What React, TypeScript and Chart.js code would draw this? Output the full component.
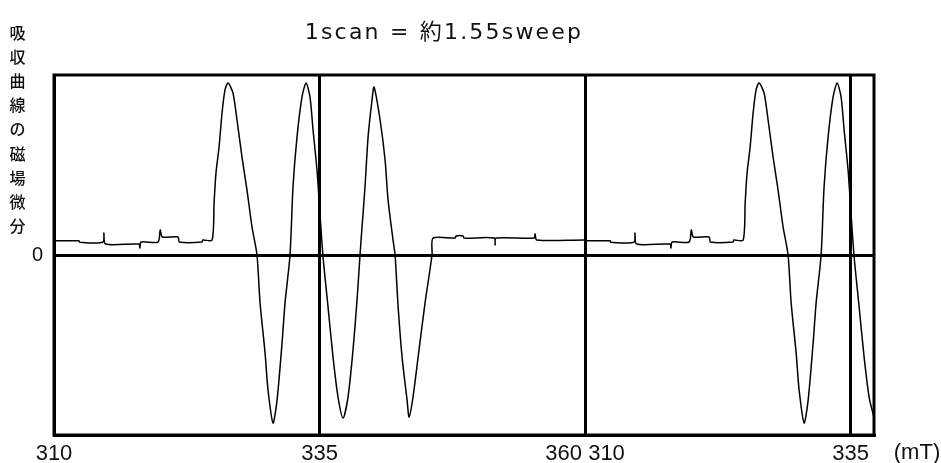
import React, { useEffect, useRef } from "react";
import { Chart, registerables } from "chart.js";

Chart.register(...registerables);

// ---- Text ----
const TITLE = "1scan = 約1.55sweep";
const Y_LABEL = "吸収曲線の磁場微分";
const UNIT_LABEL = "(mT)";

// ---- Scan description ----
const SWEEP_START = 310; // mT
const SWEEP_END = 360; // mT
const SCAN_END_FIELD = 337.2; // second sweep stops here (≈0.55 sweep)

// ---- Axis ticks (position along the scan, mT from scan start) ----
const xTickPositions = [0, 25, 50, 75];
const xTickLabels = ["310", "335", "360 310", "335"];
const yTickValues = [0];
const yTickLabels = ["0"];

// ---- One sweep: field (mT) and derivative signal (a.u., full scale ±100) ----
const sweepField = [
  310.0, 312.35, 312.4, 314.6, 314.7, 314.85, 318.0, 318.08, 318.2, 319.79,
  320.0, 320.2, 321.68, 321.8, 323.94, 324.0, 324.88,
  325.07, 325.25, 325.54, 325.82, 326.1, 326.38,
  326.85, 327.23, 327.7, 328.17, 328.64, 329.11, 329.4, 329.87, 330.15, 330.62,
  331.0, 331.47, 331.75, 332.22, 332.5, 332.88, 333.35, 333.73,
  334.1, 334.39, 334.76, 335.05, 335.33, 335.8, 336.27, 336.74, 337.21,
  337.68, 338.15, 338.53, 338.81, 339.0, 339.28, 339.57, 339.94, 340.13,
  340.7, 341.17, 341.45, 341.92, 342.11, 342.4, 342.77, 343.24, 343.43,
  343.8, 344.28, 344.93, 345.59, 345.69,
  347.76, 347.85, 348.51, 348.61, 351.45, 351.53, 351.62, 355.2, 355.29, 355.45, 360.0,
];
const sweepSignal = [
  7.9, 7.9, 7.1, 7.1, 12.2, 6.1, 6.1, 3.9, 7.2, 7.2,
  13.9, 10.0, 10.0, 7.2, 7.2, 8.3, 8.3,
  28.9, 45.6, 60.0, 78.9, 91.7, 95.6,
  90.0, 75.0, 54.4, 36.1, 15.6, 0.0, -26.7, -54.4, -75.0, -93.3,
  -80.6, -48.9, -26.7, 0.0, 37.8, 65.6, 87.8, 95.6,
  87.8, 69.4, 47.2, 22.0, -1.1, -28.9, -56.7, -78.9, -90.6,
  -78.9, -52.8, -25.0, 0.0, 15.6, 37.8, 65.6, 86.1, 93.3,
  75.0, 52.8, 30.6, 8.3, 0.0, -28.9, -56.7, -80.6, -90.0,
  -78.9, -56.7, -26.7, 0.0, 9.4,
  9.4, 10.6, 10.6, 9.4, 9.4, 5.6, 9.4, 9.4, 11.7, 8.3, 8.3,
];

const SWEEP_SPAN = SWEEP_END - SWEEP_START;
const X_MAX = SWEEP_SPAN + (SCAN_END_FIELD - SWEEP_START);

function buildScan() {
  const pts: { x: number; y: number }[] = [];
  for (let k = 0; k < 2; k++) {
    for (let i = 0; i < sweepField.length; i++) {
      const pos = k * SWEEP_SPAN + (sweepField[i] - SWEEP_START);
      pts.push({ x: pos, y: sweepSignal[i] });
      if (pos > X_MAX) return pts;
    }
  }
  return pts;
}

const textPlugin = {
  id: "textPlugin",
  afterDraw(chart: any) {
    const ctx = chart.ctx as CanvasRenderingContext2D;
    const a = chart.chartArea;
    ctx.save();
    // frame
    ctx.strokeStyle = "#000";
    ctx.lineWidth = 3;
    ctx.strokeRect(a.left, a.top, a.right - a.left, a.bottom - a.top);
    ctx.fillStyle = "#111";
    // title
    ctx.font = '22px "DejaVu Sans", "Noto Sans CJK JP", sans-serif';
    (ctx as any).letterSpacing = "2.2px";
    ctx.textAlign = "center";
    ctx.textBaseline = "middle";
    ctx.fillText(TITLE, 444, 33);
    (ctx as any).letterSpacing = "0px";
    // vertical y label
    ctx.font = '500 16px "Noto Sans CJK JP", sans-serif';
    const chars = Array.from(Y_LABEL);
    chars.forEach((c, i) => ctx.fillText(c, 17.5, 33 + i * 24.1));
    // unit
    ctx.font = '22px "Liberation Sans", Arial, sans-serif';
    ctx.fillText(UNIT_LABEL, 917, 453);
    ctx.restore();
  },
};

export default function App() {
  const ref = useRef<HTMLCanvasElement | null>(null);
  useEffect(() => {
    if (!ref.current) return;
    const chart = new Chart(ref.current, {
      type: "line",
      data: {
        datasets: [
          {
            data: buildScan(),
            borderColor: "#000",
            borderWidth: 1.5,
            pointRadius: 0,
            tension: 0.25,
            fill: false,
          },
        ],
      },
      options: {
        animation: false,
        responsive: false,
        maintainAspectRatio: false,
        devicePixelRatio: 1,
        layout: { padding: { top: 75, right: 67, bottom: 0, left: 0 } },
        plugins: {
          legend: { display: false },
          tooltip: { enabled: false },
          title: { display: false },
        },
        scales: {
          x: {
            type: "linear",
            min: 0,
            max: X_MAX,
            afterBuildTicks: (s: any) => {
              s.ticks = xTickPositions.map((v) => ({ value: v }));
            },
            afterFit: (s: any) => {
              s.height = 28;
            },
            ticks: {
              autoSkip: false,
              maxRotation: 0,
              padding: 6,
              color: "#111",
              font: { family: '"Liberation Sans", Arial, sans-serif', size: 22 },
              callback: (v: any) => xTickLabels[xTickPositions.indexOf(Number(v))] ?? "",
            },
            grid: { color: "#000", lineWidth: 3, drawTicks: false },
            border: { display: true, color: "#000", width: 3 },
          },
          y: {
            type: "linear",
            min: -100,
            max: 100,
            afterBuildTicks: (s: any) => {
              s.ticks = yTickValues.map((v) => ({ value: v }));
            },
            afterFit: (s: any) => {
              s.width = 54;
            },
            ticks: {
              padding: 11,
              color: "#111",
              font: { family: '"Liberation Sans", Arial, sans-serif', size: 20 },
              callback: (v: any) => yTickLabels[yTickValues.indexOf(Number(v))] ?? "",
            },
            grid: { color: "#000", lineWidth: 3, drawTicks: false },
            border: { display: true, color: "#000", width: 3 },
          },
        },
      } as any,
      plugins: [textPlugin],
    });
    return () => chart.destroy();
  }, []);
  return (
    <div style={{ position: "absolute", left: 0, top: 0, width: 941, height: 463, background: "#fff" }}>
      <canvas ref={ref} width={941} height={463} style={{ display: "block" }} />
    </div>
  );
}
